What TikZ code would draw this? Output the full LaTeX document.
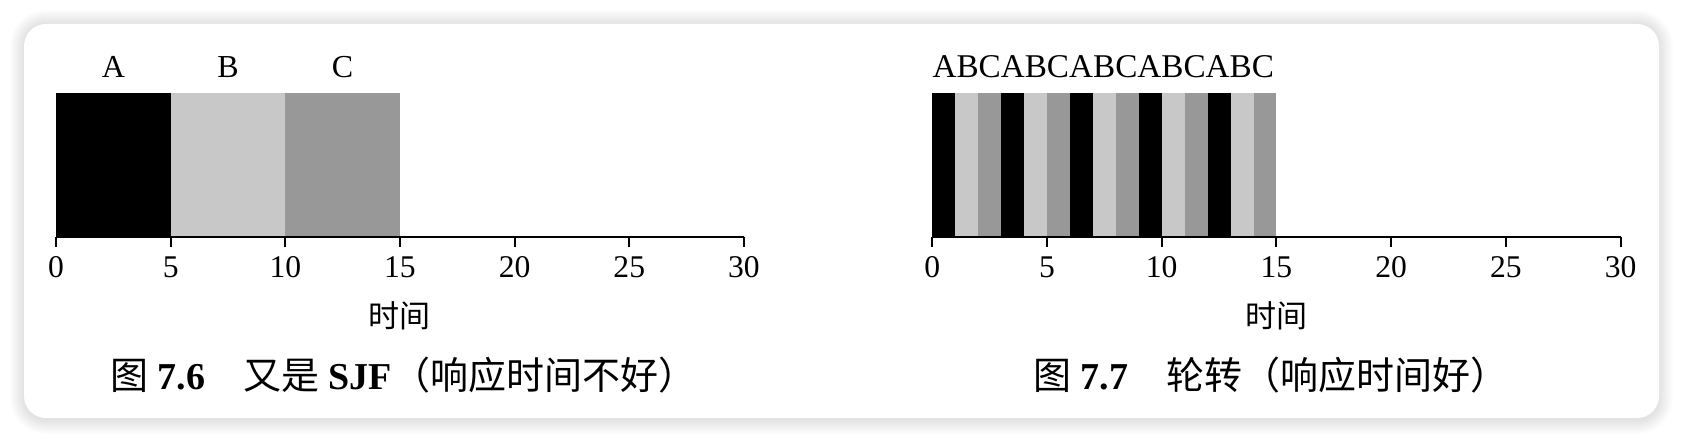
\documentclass[tikz,border=0pt]{standalone}
\usepackage{fontspec}
\setmainfont{Liberation Serif}
\newfontfamily\cjk{Noto Sans CJK SC}
\definecolor{lightbar}{RGB}{200,200,200}
\definecolor{midbar}{RGB}{152,152,152}
\tikzset{
	jobA/.style={fill=black},
	jobB/.style={fill=lightbar},
	jobC/.style={fill=midbar},
	axisline/.style={line width=1.1pt},
	tickline/.style={line width=1pt},
	ticklabel/.style={anchor=base,inner sep=0pt,font=\fontsize{15.8}{18}\selectfont},
	joblabel/.style={anchor=base,inner sep=0pt,font=\fontsize{16}{19}\selectfont},
	axistitle/.style={inner sep=0pt,font=\fontsize{15.5}{18}\selectfont\cjk},
	figcaption/.style={anchor=base west,inner sep=0pt,font=\fontsize{19}{22}\selectfont}
}
\begin{document}
\begin{tikzpicture}[x=0.5pt,y=0.5pt]
	\useasboundingbox (0,0) rectangle (1684,442);
	\fill[white] (0,0) rectangle (1684,442);
	% soft shadow round the panel
	\foreach \i in {1,...,14}
		\fill[black,opacity=0.006,rounded corners=11pt+\i*0.5pt] (24-\i,22-\i) rectangle (1659+\i,418+\i);
	\fill[white,rounded corners=11pt] (24,24) rectangle (1659,418);

	% left: SJF
	\begin{scope}[shift={(56,205.3)},xscale=22.93]
		\fill[jobA] (0,0) rectangle (5,144);
		\fill[jobB] (5,0) rectangle (10,144);
		\fill[jobC] (10,0) rectangle (15,144);
		\node[joblabel] (sjfA) at (2.5,158.7) {A};
		\node[joblabel] (sjfB) at (7.5,158.7) {B};
		\node[joblabel] (sjfC) at (12.5,158.7) {C};
		\draw[axisline] (0,0) -- (30,0);
		\foreach \t in {0,5,...,30}{
			\draw[tickline] (\t,0) -- (\t,-10);
			\node[ticklabel] (sjf\t) at (\t,-41.3) {\t};
		}
		\node[axistitle] (sjftime) at (15,-79) {时间};
		\node[figcaption] (sjfcap) at (2.35,-153.3) {{\cjk 图} \textbf{7.6}{\cjk 　又是} \textbf{SJF}{\cjk （响应时间不好）}};
	\end{scope}

	% right: round robin
	\begin{scope}[shift={(932.2,205.3)},xscale=22.95]
		\foreach \i in {0,...,4}{
			\fill[jobA] (3*\i,0) rectangle (3*\i+1,144);
			\fill[jobB] (3*\i+1,0) rectangle (3*\i+2,144);
			\fill[jobC] (3*\i+2,0) rectangle (3*\i+3,144);
		}
		\node[anchor=base west,inner sep=0pt,font=\fontsize{16.6}{19}\selectfont] (rrlabel) at (0,158.7) {ABCABCABCABCABC};
		\draw[axisline] (0,0) -- (30,0);
		\foreach \t in {0,5,...,30}{
			\draw[tickline] (\t,0) -- (\t,-10);
			\node[ticklabel] (rr\t) at (\t,-41.3) {\t};
		}
		\node[axistitle] (rrtime) at (15,-79) {时间};
		\node[figcaption] (rrcap) at (4.38,-153.3) {{\cjk 图} \textbf{7.7}{\cjk 　轮转（响应时间好）}};
	\end{scope}
\end{tikzpicture}
\end{document}
